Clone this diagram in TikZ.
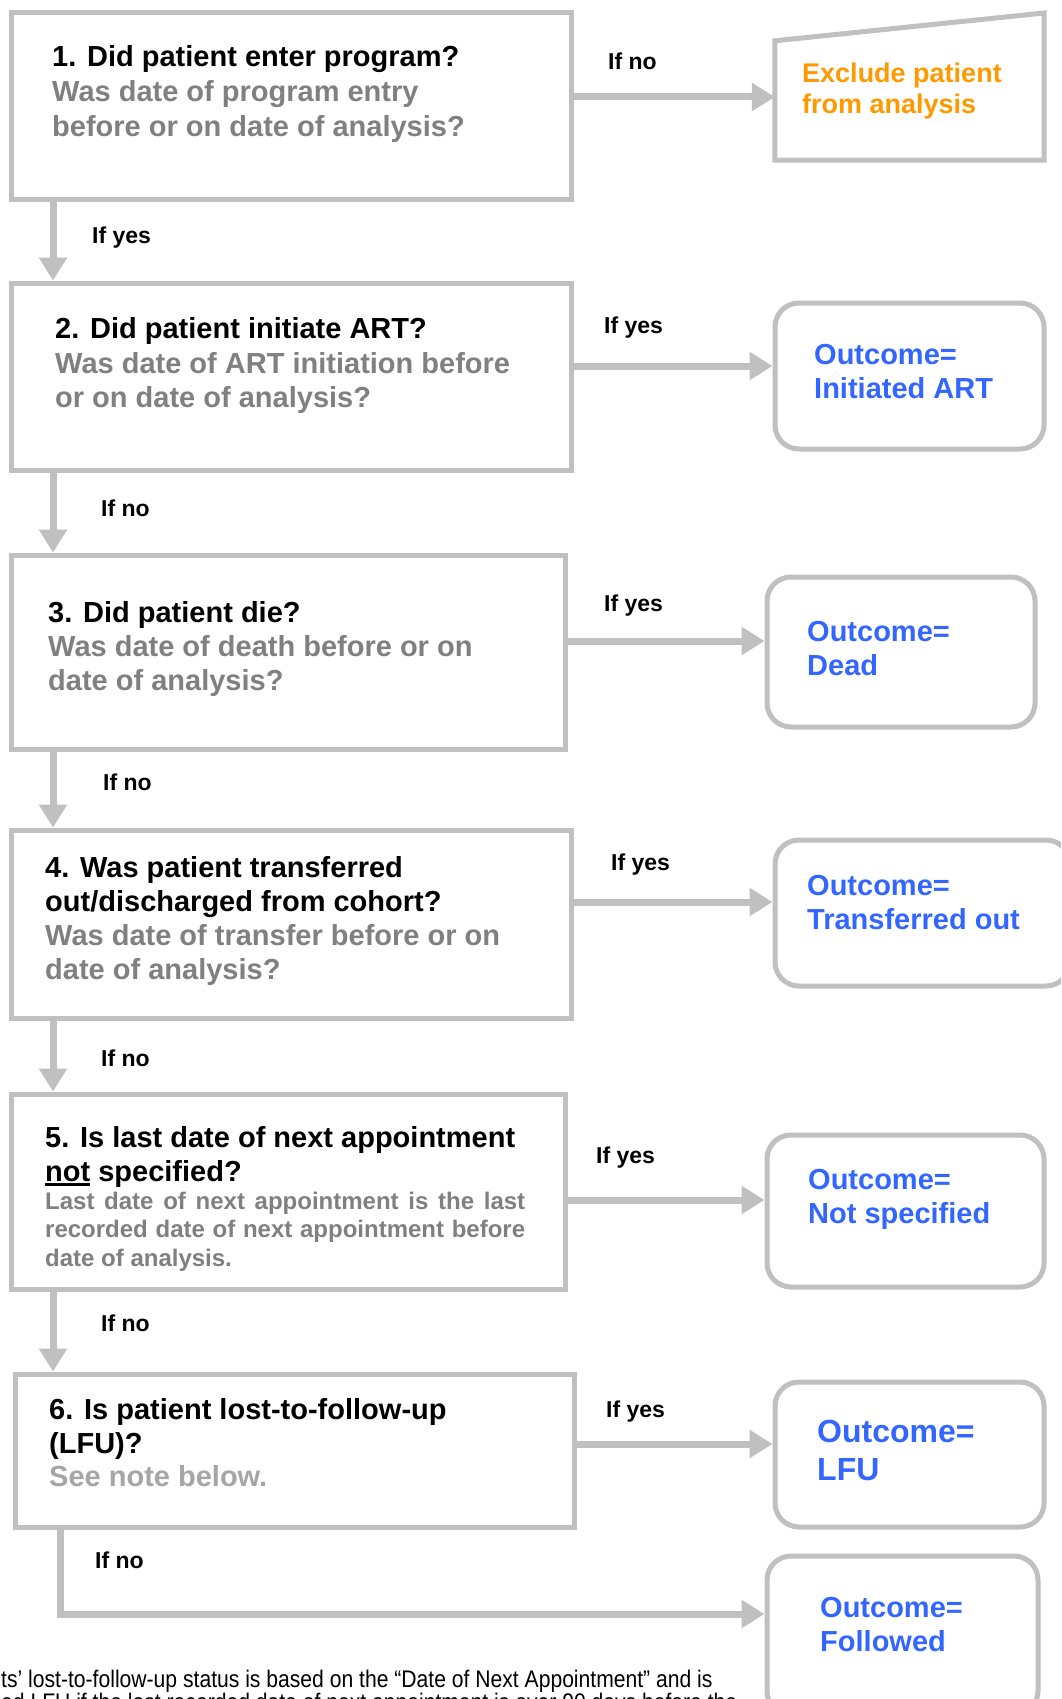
\documentclass[tikz,border=0pt]{standalone}
\usepackage{fontspec}
\setmainfont{Liberation Sans}
\usepackage{tikz}
\usetikzlibrary{arrows.meta, positioning, calc}

\definecolor{edgegrey}{RGB}{192,192,192}
\definecolor{qgrey}{RGB}{128,128,128}
\definecolor{notegrey}{RGB}{166,166,166}
\definecolor{outblue}{RGB}{51,102,255}
\definecolor{exclorange}{RGB}{255,153,0}

\newcommand{\ulword}[1]{\setbox0=\hbox{#1}\rlap{\rule[-4.5pt]{\wd0}{2.8pt}}\box0\relax}

\begin{document}
\begin{tikzpicture}[x=1pt, y=-1pt,
  qbox/.style={draw=edgegrey, line width=5pt, inner sep=0pt},
  outbox/.style={qbox, rounded corners=24pt},
  flow/.style={draw=edgegrey, line width=7pt, -{Triangle[length=23pt, width=27pt]}},
  qtitle/.style={anchor=base west, align=left, inner sep=0pt,
    font=\fontsize{29}{34.5}\selectfont\bfseries},
  qsub/.style={qtitle, text=qgrey},
  otext/.style={qtitle, text=outblue},
  lbl/.style={anchor=base west, inner sep=0pt, font=\fontsize{23}{27}\selectfont\bfseries}]
\useasboundingbox (0,0) rectangle (1061,1699);
\fill[white] (0,0) rectangle (1061,1699);
\clip (0,0) rectangle (1061,1699);

% question boxes
\node[qbox, minimum width=560, minimum height=187] (q1) at (291,106.5) {};
\node[qbox, minimum width=560, minimum height=187] (q2) at (291,376.5) {};
\node[qbox, minimum width=554, minimum height=194] (q3) at (288,652) {};
\node[qbox, minimum width=560, minimum height=188] (q4) at (291,924) {};
\node[qbox, minimum width=554, minimum height=195] (q5) at (288,1191.5) {};
\node[qbox, minimum width=559, minimum height=153] (q6) at (294.5,1450.5) {};

% (multi-line nodes sit on their last baseline)
\node[qtitle] (q1t) at (52,67) {1. Did patient enter program?};
\node[qsub] (q1s) at (52,136.5) {Was date of program entry\\before or on date of analysis?};
\node[qtitle] (q2t) at (55,338) {2. Did patient initiate ART?};
\node[qsub] (q2s) at (55,407.5) {Was date of ART initiation before\\or on date of analysis?};
\node[qtitle] (q3t) at (48,622) {3. Did patient die?};
\node[qsub] (q3s) at (48,690.5) {Was date of death before or on\\date of analysis?};
\node[qtitle] (q4t) at (45,911.5) {4. Was patient transferred\\out/discharged from cohort?};
\node[qsub] (q4s) at (45,979.5) {Was date of transfer before or on\\date of analysis?};
\node[qtitle] (q5t) at (45,1181.5) {5. Is last date of next appointment\\\ulword{not} specified?};
\node[qsub, text width=480, align=justify, font=\fontsize{24}{28.5}\selectfont\bfseries] (q5s) at (45,1209)
  {Last date of next appointment is the last recorded date of next appointment before date of analysis.};
\node[qtitle] (q6t) at (49,1453.5) {6. Is patient lost-to-follow-up\\(LFU)?};
\node[qsub, text=notegrey] (q6s) at (49,1486) {See note below.};

% outcome boxes
\node[draw=none, inner sep=0pt, minimum width=269, minimum height=119] (excl) at (909.5,100.5) {};
\draw[edgegrey, line width=5pt, line join=miter]
  (excl.south west) -- (excl.north west) -- (excl.north east |- 0,13) -- (excl.south east) -- cycle;
\node[outbox, minimum width=269, minimum height=146] (r2) at (909.5,376) {};
\node[outbox, minimum width=268, minimum height=150] (r3) at (901,652) {};
\node[outbox, minimum width=295, minimum height=146] (r4) at (922.5,913) {};
\node[outbox, minimum width=277, minimum height=152] (r5) at (905.5,1211) {};
\node[outbox, minimum width=269, minimum height=145] (r6) at (909.5,1454.5) {};
\node[outbox, minimum width=271, minimum height=159] (r7) at (902.5,1635.5) {};

\node[qtitle, text=exclorange, font=\fontsize{27}{31}\selectfont\bfseries] (exclt) at (802,114) {Exclude patient\\from analysis};
\node[otext] (r2t) at (814,398.5) {Outcome=\\Initiated ART};
\node[otext] (r3t) at (807,675.5) {Outcome=\\Dead};
\node[otext] (r4t) at (807,929.5) {Outcome=\\Transferred out};
\node[otext] (r5t) at (808,1223.5) {Outcome=\\Not specified};
\node[otext, font=\fontsize{32}{38}\selectfont\bfseries] (r6t) at (817,1480) {Outcome=\\LFU};
\node[otext] (r7t) at (820,1651.5) {Outcome=\\Followed};

% connectors
\draw[flow] (q1.east |- 0,97) -- (excl.west |- 0,97);
\draw[flow] (q2.east |- 0,366) -- (r2.west |- 0,366);
\draw[flow] (q3.east |- 0,641) -- (r3.west |- 0,641);
\draw[flow] (q4.east |- 0,902) -- (r4.west |- 0,902);
\draw[flow] (q5.east |- 0,1200) -- (r5.west |- 0,1200);
\draw[flow] (q6.east |- 0,1444) -- (r6.west |- 0,1444);
\draw[flow] (q1.south -| 53,0) -- (q2.north -| 53,0);
\draw[flow] (q2.south -| 53,0) -- (q3.north -| 53,0);
\draw[flow] (q3.south -| 53,0) -- (q4.north -| 53,0);
\draw[flow] (q4.south -| 53,0) -- (q5.north -| 53,0);
\draw[flow] (q5.south -| 53,0) -- (q6.north -| 53,0);
\draw[flow] (q6.south -| 60,0) |- (r7.west |- 0,1614);

% labels
\node[lbl] (l1) at (608,70) {If no};
\node[lbl] (l2) at (604,333) {If yes};
\node[lbl] (l3) at (604,611) {If yes};
\node[lbl] (l4) at (611,870) {If yes};
\node[lbl] (l5) at (596,1163) {If yes};
\node[lbl] (l6) at (606,1417) {If yes};
\node[lbl] (d1) at (92,243) {If yes};
\node[lbl] (d2) at (101,516) {If no};
\node[lbl] (d3) at (103,790) {If no};
\node[lbl] (d4) at (101,1066) {If no};
\node[lbl] (d5) at (101,1331) {If no};
\node[lbl] (d6) at (95,1568) {If no};

% note below
\node[anchor=base west, align=left, inner sep=0pt, font=\fontsize{24}{23}\selectfont] (note) at (1,1710)
  {\scalebox{0.88}[1]{ts’ lost-to-follow-up status is based on the “Date of Next Appointment” and is}\\
   \scalebox{0.88}[1]{ed LFU if the last recorded date of next appointment is over 90 days before the}};
\end{tikzpicture}
\end{document}
